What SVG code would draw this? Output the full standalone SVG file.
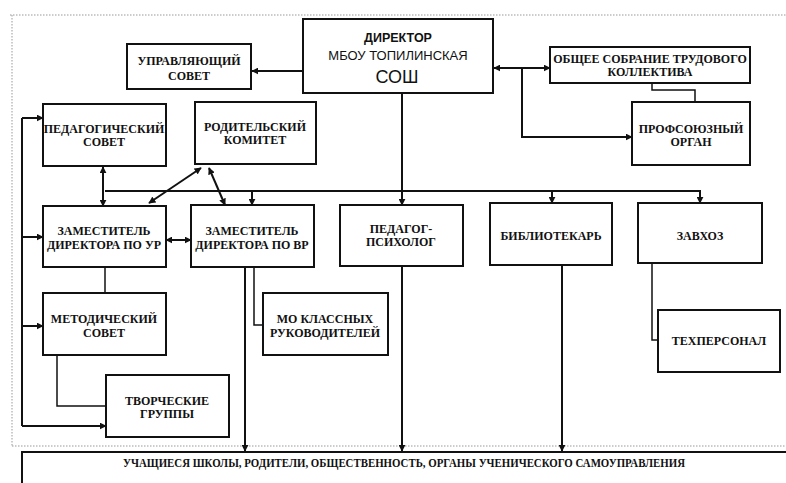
<svg xmlns="http://www.w3.org/2000/svg" width="786" height="483" viewBox="0 0 786 483">
<style>
.box{fill:#fff;stroke:#111;stroke-width:2}
.t{font-family:"Liberation Serif","DejaVu Serif",serif;font-weight:bold;font-size:12px;fill:#111;text-anchor:middle}
.d{font-family:"Liberation Sans","DejaVu Sans",sans-serif;fill:#111;text-anchor:middle}
.c{fill:none;stroke:#111;stroke-width:2}
.thin{fill:none;stroke:#111;stroke-width:1.5}
.dot{fill:none;stroke:#999;stroke-width:1;stroke-dasharray:1.5 1.5}
</style>
<defs>
<marker id="a" viewBox="0 0 10 10" refX="9" refY="5" markerWidth="7" markerHeight="7" markerUnits="userSpaceOnUse" orient="auto-start-reverse">
<path d="M0,0 L10,5 L0,10 z" fill="#111"/>
</marker>
</defs>
<rect width="786" height="483" fill="#fff"/>
<g id="frame">
<path class="dot" d="M10,15 H786 M12,15 V446 M12,446 H786"/>
</g>
<g id="connectors">
<path class="c" d="M302,71 H252" marker-end="url(#a)"/>
<path class="c" d="M494,68 H550" marker-start="url(#a)" marker-end="url(#a)"/>
<path class="c" d="M522,68 V137 H632" marker-end="url(#a)"/>
<path class="thin" d="M652,83 V90 H695 V102"/>
<path class="c" d="M402,93 V205" marker-end="url(#a)"/>
<path class="c" d="M105,191 H700 V203" marker-end="url(#a)"/>
<path class="c" d="M252,191 V205" marker-end="url(#a)"/>
<path class="c" d="M552,191 V203" marker-end="url(#a)"/>
<path class="c" d="M103,167 V206" marker-start="url(#a)" marker-end="url(#a)"/>
<path class="c" d="M201,168 L149,203" marker-start="url(#a)" marker-end="url(#a)"/>
<path class="c" d="M209,168 L225,205" marker-start="url(#a)" marker-end="url(#a)"/>
<path class="c" d="M166,240 H191" marker-start="url(#a)" marker-end="url(#a)"/>
<path class="c" d="M22,118 V426"/>
<path class="c" d="M22,118 H43" marker-end="url(#a)"/>
<path class="c" d="M22,237 H43" marker-end="url(#a)"/>
<path class="c" d="M22,326 H43" marker-end="url(#a)"/>
<path class="c" d="M22,426 H106" marker-end="url(#a)"/>
<path class="thin" d="M105,267 V293"/>
<path class="thin" d="M57,355 V406 H106"/>
<path class="c" d="M245,267 V451" marker-end="url(#a)"/>
<path class="thin" d="M254,267 V325 H263"/>
<path class="c" d="M402,266 V451" marker-end="url(#a)"/>
<path class="c" d="M562,265 V451" marker-end="url(#a)"/>
<path class="thin" d="M652,263 V340 H658"/>
</g>
<g id="director">
<rect class="box" x="303" y="19" width="190" height="74"/>
<text class="d" x="398" y="42" font-size="12.5" font-weight="bold">ДИРЕКТОР</text>
<text class="d" x="398" y="60" font-size="13">МБОУ ТОПИЛИНСКАЯ</text>
<text class="d" x="397" y="83" font-size="18">СОШ</text>
</g>
<g id="upr-sovet">
<rect class="box" x="127" y="44" width="124" height="45"/>
<text class="t" x="189" y="65" font-size="15">УПРАВЛЯЮЩИЙ</text>
<text class="t" x="189" y="80" font-size="15">СОВЕТ</text>
</g>
<g id="obshchee-sobranie">
<rect class="box" x="550" y="47" width="200" height="36"/>
<text class="t" x="650" y="63" font-size="11">ОБЩЕЕ СОБРАНИЕ ТРУДОВОГО</text>
<text class="t" x="650" y="76" font-size="11">КОЛЛЕКТИВА</text>
</g>
<g id="profsoyuz">
<rect class="box" x="632" y="102" width="118" height="63"/>
<text class="t" x="691" y="133">ПРОФСОЮЗНЫЙ</text>
<text class="t" x="691" y="146">ОРГАН</text>
</g>
<g id="ped-sovet">
<rect class="box" x="43" y="104" width="123" height="62"/>
<text class="t" x="104" y="133">ПЕДАГОГИЧЕСКИЙ</text>
<text class="t" x="104" y="146">СОВЕТ</text>
</g>
<g id="rod-komitet">
<rect class="box" x="195" y="102" width="121" height="62"/>
<text class="t" x="255" y="131" font-size="11.5">РОДИТЕЛЬСКИЙ</text>
<text class="t" x="255" y="144" font-size="11.5">КОМИТЕТ</text>
</g>
<g id="zam-ur">
<rect class="box" x="43" y="206" width="123" height="61"/>
<text class="t" x="104" y="235">ЗАМЕСТИТЕЛЬ</text>
<text class="t" x="104" y="249">ДИРЕКТОРА ПО УР</text>
</g>
<g id="zam-vr">
<rect class="box" x="191" y="205" width="123" height="62"/>
<text class="t" x="252" y="235">ЗАМЕСТИТЕЛЬ</text>
<text class="t" x="252" y="249">ДИРЕКТОРА ПО ВР</text>
</g>
<g id="psiholog">
<rect class="box" x="340" y="205" width="123" height="61"/>
<text class="t" x="401" y="233" font-size="11">ПЕДАГОГ-</text>
<text class="t" x="401" y="246" font-size="11">ПСИХОЛОГ</text>
</g>
<g id="bibliotekar">
<rect class="box" x="490" y="203" width="122" height="62"/>
<text class="t" x="551" y="240" font-size="11">БИБЛИОТЕКАРЬ</text>
</g>
<g id="zavhoz">
<rect class="box" x="638" y="203" width="124" height="60"/>
<text class="t" x="700" y="240" font-size="11">ЗАВХОЗ</text>
</g>
<g id="metod-sovet">
<rect class="box" x="43" y="293" width="123" height="62"/>
<text class="t" x="104" y="323">МЕТОДИЧЕСКИЙ</text>
<text class="t" x="104" y="337">СОВЕТ</text>
</g>
<g id="mo-klassnyh">
<rect class="box" x="263" y="293" width="125" height="62"/>
<text class="t" x="325" y="323">МО КЛАССНЫХ</text>
<text class="t" x="325" y="337">РУКОВОДИТЕЛЕЙ</text>
</g>
<g id="tehpersonal">
<rect class="box" x="658" y="310" width="122" height="62"/>
<text class="t" x="719" y="345" font-size="11">ТЕХПЕРСОНАЛ</text>
</g>
<g id="tvorcheskie">
<rect class="box" x="106" y="375" width="123" height="62"/>
<text class="t" x="167" y="405">ТВОРЧЕСКИЕ</text>
<text class="t" x="167" y="418">ГРУППЫ</text>
</g>
<g id="uchashchiesya">
<rect class="box" x="22" y="452" width="780" height="50"/>
<text class="t" x="404" y="467" font-size="10.5" textLength="562" lengthAdjust="spacingAndGlyphs">УЧАЩИЕСЯ ШКОЛЫ, РОДИТЕЛИ, ОБЩЕСТВЕННОСТЬ, ОРГАНЫ УЧЕНИЧЕСКОГО САМОУПРАВЛЕНИЯ</text>
</g>
</svg>
